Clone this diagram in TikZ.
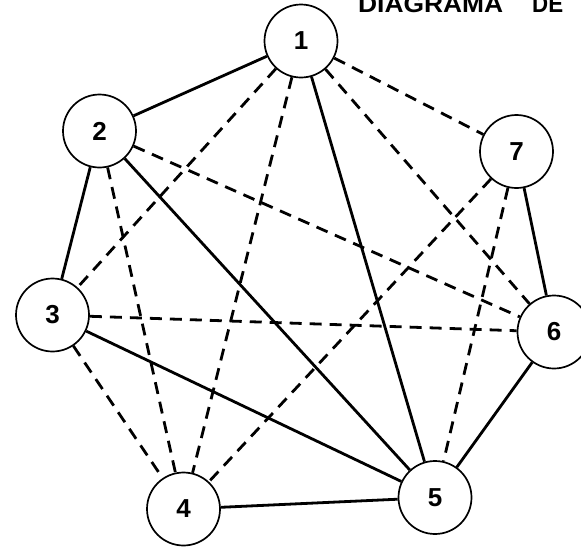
\documentclass[tikz,border=0pt]{standalone}
\usepackage{fontspec}
\setmainfont{Liberation Sans}
\newfontfamily\titlefont{Liberation Sans}
\begin{document}
\begin{tikzpicture}[x=1pt,y=-1pt,
  vertex/.style={circle,draw,line width=1.7pt,minimum size=73pt,inner sep=0pt,fill=white,
    font=\fontsize{26}{26}\selectfont\bfseries},
  solidedge/.style={line width=2.8pt},
  dashededge/.style={line width=2.8pt,dash pattern=on 12pt off 8pt}]
\useasboundingbox (0,0) rectangle (581,547);
\node[anchor=base west,inner sep=0pt] (t1) at (358,12) {\resizebox{145pt}{17pt}{\titlefont\bfseries DIAGRAMA}};
\node[anchor=base west,inner sep=0pt] (t2) at (532,12) {\resizebox{31pt}{17pt}{\titlefont\bfseries DE}};
\node[vertex] (n1) at (301,41) {1};
\node[vertex] (n2) at (99.5,131) {2};
\node[vertex] (n3) at (52.5,315) {3};
\node[vertex] (n4) at (183.5,509) {4};
\node[vertex] (n5) at (435,497.5) {5};
\node[vertex] (n6) at (554,332) {6};
\node[vertex] (n7) at (516.5,151.5) {7};
\draw[solidedge] (n1) -- (n2);
\draw[solidedge] (n2) -- (n3);
\draw[solidedge] (n1) -- (n5);
\draw[solidedge] (n2) -- (n5);
\draw[solidedge] (n3) -- (n5);
\draw[solidedge] (n4) -- (n5);
\draw[solidedge] (n5) -- (n6);
\draw[solidedge] (n6) -- (n7);
\draw[dashededge] (n1) -- (n7);
\draw[dashededge] (n1) -- (n6);
\draw[dashededge] (n1) -- (n3);
\draw[dashededge] (n1) -- (n4);
\draw[dashededge] (n2) -- (n4);
\draw[dashededge] (n2) -- (n6);
\draw[dashededge] (n3) -- (n6);
\draw[dashededge] (n3) -- (n4);
\draw[dashededge] (n7) -- (n4);
\draw[dashededge] (n7) -- (n5);
\end{tikzpicture}
\end{document}
